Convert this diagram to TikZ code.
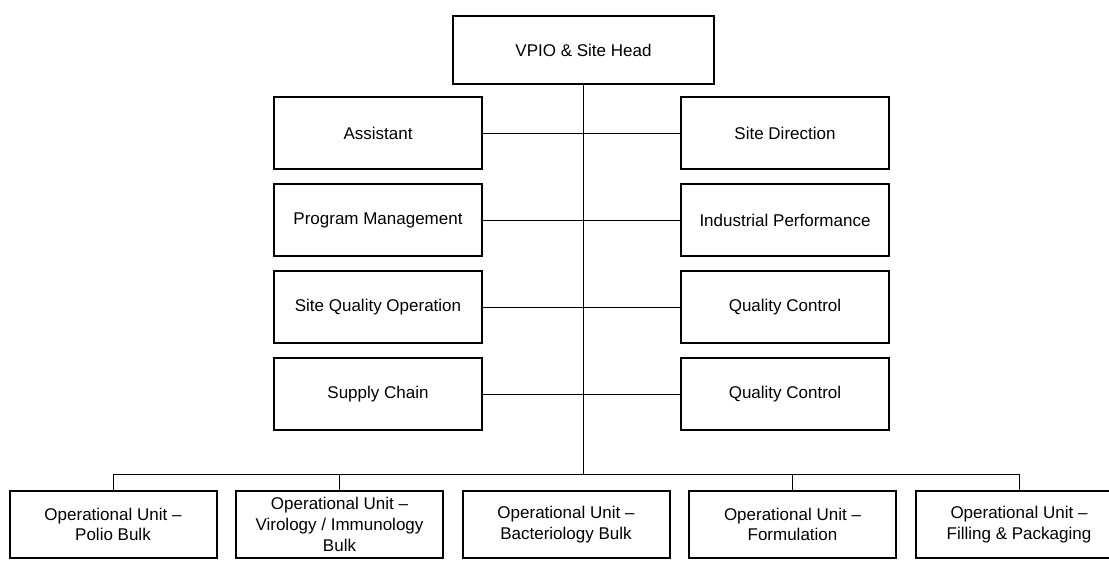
\documentclass[tikz,border=0pt]{standalone}
\usepackage{fontspec}
\setmainfont{Liberation Sans}
\usepackage{tikz}
\usetikzlibrary{calc}
\def\orgfont{\fontsize{12.75pt}{15.5pt}\selectfont}

\begin{document}
\begin{tikzpicture}[x=0.75pt, y=-0.75pt, every node/.style={font=\orgfont},
		unitbox/.style={draw, line width=1.5pt, align=center, inner sep=0pt, minimum width=156pt, minimum height=54pt},
		headbox/.style={unitbox, minimum width=195.75pt, minimum height=51pt},
		opbox/.style={unitbox, minimum width=155.25pt, minimum height=50.25pt},
		link/.style={line width=0.7pt}]
			\useasboundingbox (0,0) rectangle (1109,562);
			\clip (0,0) rectangle (1109,562);
			
			% head of the site
			\node[headbox] (head) at (583.5,50) {VPIO \& Site Head};
			
			% staff functions on both sides of the line
			\node[unitbox] (assist) at (378,133) {Assistant};
			\node[unitbox] (progman) at (378,220) {Program Management};
			\node[unitbox] (sqo) at (378,307) {Site Quality Operation};
			\node[unitbox] (supply) at (378,394) {Supply Chain};
			\node[unitbox] (sitedir) at (785,133) {Site Direction};
			\node[unitbox] (indperf) at (785,220) {Industrial Performance};
			\node[unitbox] (qcone) at (785,307) {Quality Control};
			\node[unitbox] (qctwo) at (785,394) {Quality Control};
			\draw[link] (assist.east) -- (sitedir.west);
			\draw[link] (progman.east) -- (indperf.west);
			\draw[link] (sqo.east) -- (qcone.west);
			\draw[link] (supply.east) -- (qctwo.west);
			
			% operational units
			\foreach \n/\x/\txt in {ou1/113/{Operational Unit --\\Polio Bulk},
				ou2/339.5/{Operational Unit --\\Virology / Immunology\\Bulk},
				ou3/566/{Operational Unit --\\Bacteriology Bulk},
				ou4/792.5/{Operational Unit --\\Formulation},
				ou5/1019/{Operational Unit --\\Filling \& Packaging}}
			{
				\node[opbox] (\n) at (\x,524.5) {\txt};
			}
			\coordinate (bus) at (0,474);
			\draw[link] (head.south) -- (head.south |- bus);
			\draw[link] (ou1.north |- bus) -- (ou5.north |- bus);
			\foreach \n in {ou1,ou2,ou4,ou5}
			{
				\draw[link] (\n.north |- bus) -- (\n.north);
			}
\end{tikzpicture}
\end{document}
